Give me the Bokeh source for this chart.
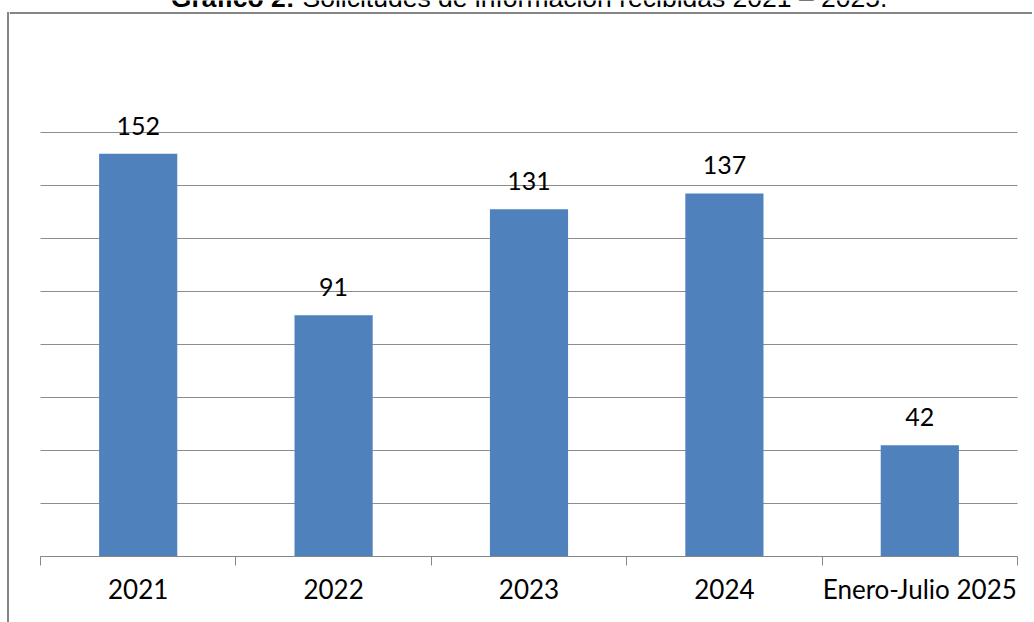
from bokeh.plotting import figure
from bokeh.models import (FixedTicker, Label, ColumnDataSource, Range1d, Span)
from bokeh.embed import file_html
from bokeh.resources import INLINE
from bokeh.core.properties import value

# ---- data ----
categories = ["2021", "2022", "2023", "2024", "Enero-Julio 2025"]
values = [152, 91, 131, 137, 42]
grid_values = [20, 40, 60, 80, 100, 120, 140, 160]
title_bold = "Gráfico 2:"
title_rest = "Solicitudes de información recibidas 2021 – 2025."

n = len(categories)
xpos = [i + 0.5 for i in range(n)]
boundaries = list(range(n + 1))
src = ColumnDataSource(dict(x=xpos, top=values, label=[str(v) for v in values]))
gsrc = ColumnDataSource(dict(y=grid_values, x0=[0] * len(grid_values),
                             x1=[n] * len(grid_values)))

# ---- layout constants (pixels) ----
CSS_LEFT = 9            # page x where the canvas begins (after the left border)
W, H = 1034 - CSS_LEFT, 622
BOTTOM = 66             # axis panel height
PX_PER_CAT = 195.4
PLOT_LEFT = 40 - CSS_LEFT   # canvas x of category 0 boundary
PX_PER_UNIT_Y = 2.65

frame_w = W
frame_h = H - BOTTOM
x_start = -PLOT_LEFT / PX_PER_CAT
x_end = (frame_w - PLOT_LEFT) / PX_PER_CAT
y_end = frame_h / PX_PER_UNIT_Y

p = figure(width=W, height=H, output_backend="svg", toolbar_location=None,
           x_range=Range1d(x_start, x_end), y_range=Range1d(0, y_end),
           y_axis_location=None,
           min_border_left=0, min_border_right=0, min_border_top=0,
           min_border_bottom=BOTTOM)
# left edge of the chart-area border (starts 12px below the page top)
p.styles = {"margin-left": "7px", "padding-left": "2px",
            "background": "linear-gradient(#868686, #868686) 0px 12px / 2px 100% no-repeat"}
p.outline_line_color = None
p.background_fill_color = "white"
p.border_fill_color = "white"
p.grid.visible = False

# horizontal gridlines
p.segment(x0="x0", x1="x1", y0="y", y1="y", source=gsrc,
          line_color="#8c8c8c", line_width=1)

p.vbar(x="x", top="top", width=0.4, bottom=0, source=src,
       fill_color="#4F81BD", line_color=None)

p.text(x="x", y="top", text="label", source=src, text_align="center",
       text_baseline="alphabetic", y_offset=-28,
       text_font=value("Lato"), text_font_size="25px", text_color="#000000")

ax = p.xaxis[0]
ax.bounds = (0, n)
ax.ticker = FixedTicker(ticks=xpos, minor_ticks=boundaries)
ax.major_label_overrides = {x: c for x, c in zip(xpos, categories)}
ax.major_tick_line_color = None
ax.minor_tick_line_color = "#868686"
ax.minor_tick_out = 9
ax.minor_tick_in = 0
ax.axis_line_color = "#868686"
ax.axis_line_width = 1
ax.major_label_text_font = "Lato"
ax.major_label_text_font_size = "26px"
ax.major_label_text_color = "#000000"
ax.major_label_standoff = 7

# top edge of the chart-area border
top_border = Span(location=(frame_h - 12.5) / PX_PER_UNIT_Y, dimension="width",
                  line_color="#868686", line_width=2)
p.add_layout(top_border)

t1 = Label(x=292 - CSS_LEFT, y=-3, x_units="canvas", y_units="canvas",
           text=title_bold, text_align="right", text_baseline="alphabetic",
           text_font="Liberation Sans", text_font_style="bold",
           text_font_size="26.5px", text_color="#000000")
t2 = Label(x=300 - CSS_LEFT, y=-3, x_units="canvas", y_units="canvas",
           text=title_rest, text_align="left", text_baseline="alphabetic",
           text_font="Liberation Sans", text_font_size="26.5px",
           text_color="#000000")
p.add_layout(t1)
p.add_layout(t2)

open("out.html", "w").write(file_html(p, INLINE))
